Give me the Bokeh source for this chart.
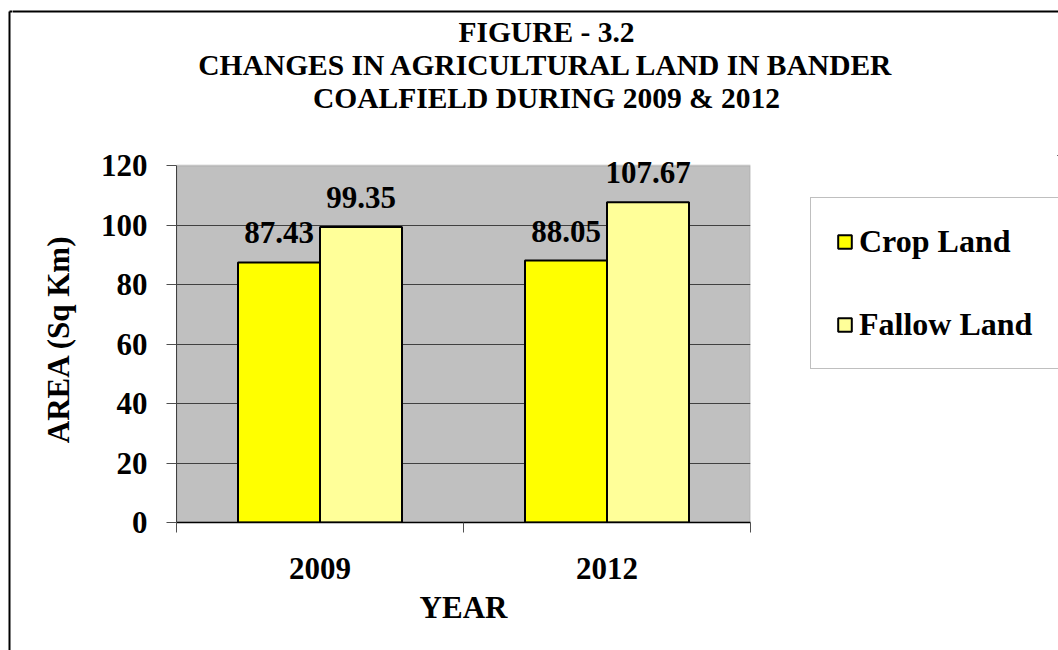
from bokeh.plotting import figure
from bokeh.layouts import column, row
from bokeh.models import (ColumnDataSource, Range1d, FixedTicker, LabelSet, Label,
                          Legend, LegendItem, BoxAnnotation)
from bokeh.transform import dodge
from bokeh.core.properties import value
from bokeh.embed import file_html
from bokeh.resources import INLINE

# ---- data ----
years = ["2009", "2012"]
crop_land = [87.43, 88.05]
fallow_land = [99.35, 107.67]
series_names = ["Crop Land", "Fallow Land"]
y_ticks = [0, 20, 40, 60, 80, 100, 120]
y_max = 120
title_lines = ["FIGURE - 3.2",
               "CHANGES IN AGRICULTURAL LAND IN BANDER",
               "COALFIELD DURING 2009 & 2012"]
x_title = "YEAR"
y_title = "AREA (Sq Km)"

FONT = "Liberation Serif"
CROP_COLOR = "#FFFF00"
FALLOW_COLOR = "#FFFF99"
PLOT_BG = "#C0C0C0"

W, H = 1058, 650
TOP_H = 138
STRIP_W = 12
MAIN_W = 741
LEG_W = W - STRIP_W - MAIN_W
MAIN_H = H - TOP_H
FRAME_TOP, FRAME_BOTTOM = 155 - TOP_H, 128


def blank_fig(width, height, xr, yr, **kw):
    f = figure(width=width, height=height, output_backend="svg", toolbar_location=None,
               x_range=xr, y_range=yr, x_axis_location=None, y_axis_location=None,
               **kw)
    f.grid.visible = False
    f.outline_line_color = None
    f.background_fill_color = "white"
    f.border_fill_color = "white"
    return f


# ---- left strip: outer chart border, left edge ----
strip = blank_fig(STRIP_W, H, Range1d(0, STRIP_W), Range1d(H, 0), min_border=0)
strip.segment(x0=[9, 9], y0=[11, 11], x1=[9, STRIP_W + 20], y1=[H + 20, 11],
              line_color="black", line_width=2)

# ---- title area (outer border, top edge) ----
top = blank_fig(W - STRIP_W, TOP_H, Range1d(0, W - STRIP_W), Range1d(TOP_H, 0), min_border=0)
top.segment(x0=[-20], y0=[11], x1=[W + 40], y1=[11], line_color="black", line_width=2)
for line, ymid in zip(title_lines, [31, 64, 97]):
    top.add_layout(Label(x=546 - STRIP_W, y=ymid, text=line, text_align="center",
                         text_baseline="middle", text_font=FONT,
                         text_font_style="bold", text_font_size="29.5px",
                         text_color="black"))

# ---- main chart ----
x_pos = list(range(1, len(years) + 1))
src = ColumnDataSource(dict(
    x=x_pos,
    crop=crop_land,
    fallow=fallow_land,
    crop_txt=[f"{v:.2f}" for v in crop_land],
    fallow_txt=[f"{v:.2f}" for v in fallow_land],
))

frame_h = MAIN_H - FRAME_TOP - FRAME_BOTTOM
head = y_max * (frame_h / 357.0) - y_max  # headroom above the plot area for labels
p = figure(width=MAIN_W, height=MAIN_H, output_backend="svg", toolbar_location=None,
           x_range=Range1d(0.5, len(years) + 0.5), y_range=Range1d(0, y_max + head),
           min_border_left=176 - STRIP_W, min_border_right=3,
           min_border_top=FRAME_TOP, min_border_bottom=FRAME_BOTTOM)
p.title.visible = False
p.background_fill_color = "white"
p.border_fill_color = "white"
p.outline_line_color = None

# grey plot area
p.add_layout(BoxAnnotation(left=0.5, right=len(years) + 0.5, bottom=0, top=y_max,
                           fill_color=PLOT_BG, fill_alpha=1.0,
                           line_color="#8C8C8C", line_width=2, level="image"))

bw = 2 / 7
bar_style = dict(width=bw, source=src, line_color="black", line_width=2)
r_crop = p.vbar(x=dodge("x", -bw / 2, range=p.x_range), top="crop",
                fill_color=CROP_COLOR, **bar_style)
r_fallow = p.vbar(x=dodge("x", bw / 2, range=p.x_range), top="fallow",
                  fill_color=FALLOW_COLOR, **bar_style)

for col, off in (("crop", -bw / 2), ("fallow", bw / 2)):
    p.add_layout(LabelSet(x=dodge("x", off, range=p.x_range), y=col, text=col + "_txt",
                          source=src, y_offset=19, text_align="center",
                          text_baseline="alphabetic", text_font=value(FONT),
                          text_font_style="bold", text_font_size="31px",
                          text_color="black"))

# axes
yax = p.yaxis[0]
yax.ticker = FixedTicker(ticks=y_ticks)
yax.bounds = (0, y_max)
yax.axis_label = y_title
yax.axis_label_text_font = FONT
yax.axis_label_text_font_style = "bold"
yax.axis_label_text_font_size = "31px"
yax.axis_label_text_color = "black"
yax.axis_label_standoff = 22
yax.major_label_text_font = FONT
yax.major_label_text_font_style = "bold"
yax.major_label_text_font_size = "31px"
yax.major_label_text_color = "black"
yax.major_label_standoff = 19
yax.major_tick_out = 10
yax.major_tick_in = 0
yax.minor_tick_line_color = None
yax.axis_line_color = "#404040"
yax.major_tick_line_color = "#505050"

xax = p.xaxis[0]
xax.ticker = FixedTicker(ticks=x_pos, minor_ticks=[x - 0.5 for x in x_pos] + [x_pos[-1] + 0.5])
xax.major_label_overrides = {x: y for x, y in zip(x_pos, years)}
xax.axis_label = x_title
xax.axis_label_text_font = FONT
xax.axis_label_text_font_style = "bold"
xax.axis_label_text_font_size = "31px"
xax.axis_label_text_color = "black"
xax.axis_label_standoff = 8
xax.major_label_text_font = FONT
xax.major_label_text_font_style = "bold"
xax.major_label_text_font_size = "31px"
xax.major_label_text_color = "black"
xax.major_label_standoff = 25
xax.major_tick_line_color = None
xax.major_tick_out = 0
xax.major_tick_in = 0
xax.minor_tick_line_color = "#505050"
xax.minor_tick_out = 10
xax.minor_tick_in = 0
xax.axis_line_color = "black"
xax.axis_line_width = 1.5

p.xgrid.visible = False
p.ygrid.ticker = FixedTicker(ticks=[t for t in y_ticks if 0 < t < y_max])
p.ygrid.grid_line_color = "#404040"
p.ygrid.grid_line_width = 1

# ---- legend area (legend proxies share the data but lie outside this panel's range) ----
leg = blank_fig(LEG_W, MAIN_H, Range1d(-10, -9), Range1d(-10, -9),
                min_border_left=0, min_border_right=0,
                min_border_top=FRAME_TOP, min_border_bottom=FRAME_BOTTOM)
proxy_crop = leg.vbar(x="x", top="crop", fill_color=CROP_COLOR, **bar_style)
proxy_fallow = leg.vbar(x="x", top="fallow", fill_color=FALLOW_COLOR, **bar_style)
legend = Legend(items=[LegendItem(label=series_names[0], renderers=[proxy_crop]),
                       LegendItem(label=series_names[1], renderers=[proxy_fallow])],
                location=(810 - STRIP_W - MAIN_W, 522 - 369),
                orientation="vertical",
                label_text_font=FONT, label_text_font_style="bold",
                label_text_font_size="32px", label_text_color="black",
                glyph_width=17, glyph_height=17,
                label_standoff=6, label_width=260, label_height=17, spacing=46,
                padding=25, margin=0, border_line_color="#808080", border_line_width=1,
                background_fill_color="white", background_fill_alpha=1.0)
leg.add_layout(legend, "center")

layout = row(strip, column(top, row(p, leg, spacing=0), spacing=0), spacing=0)
open("out.html", "w").write(file_html(layout, INLINE))
